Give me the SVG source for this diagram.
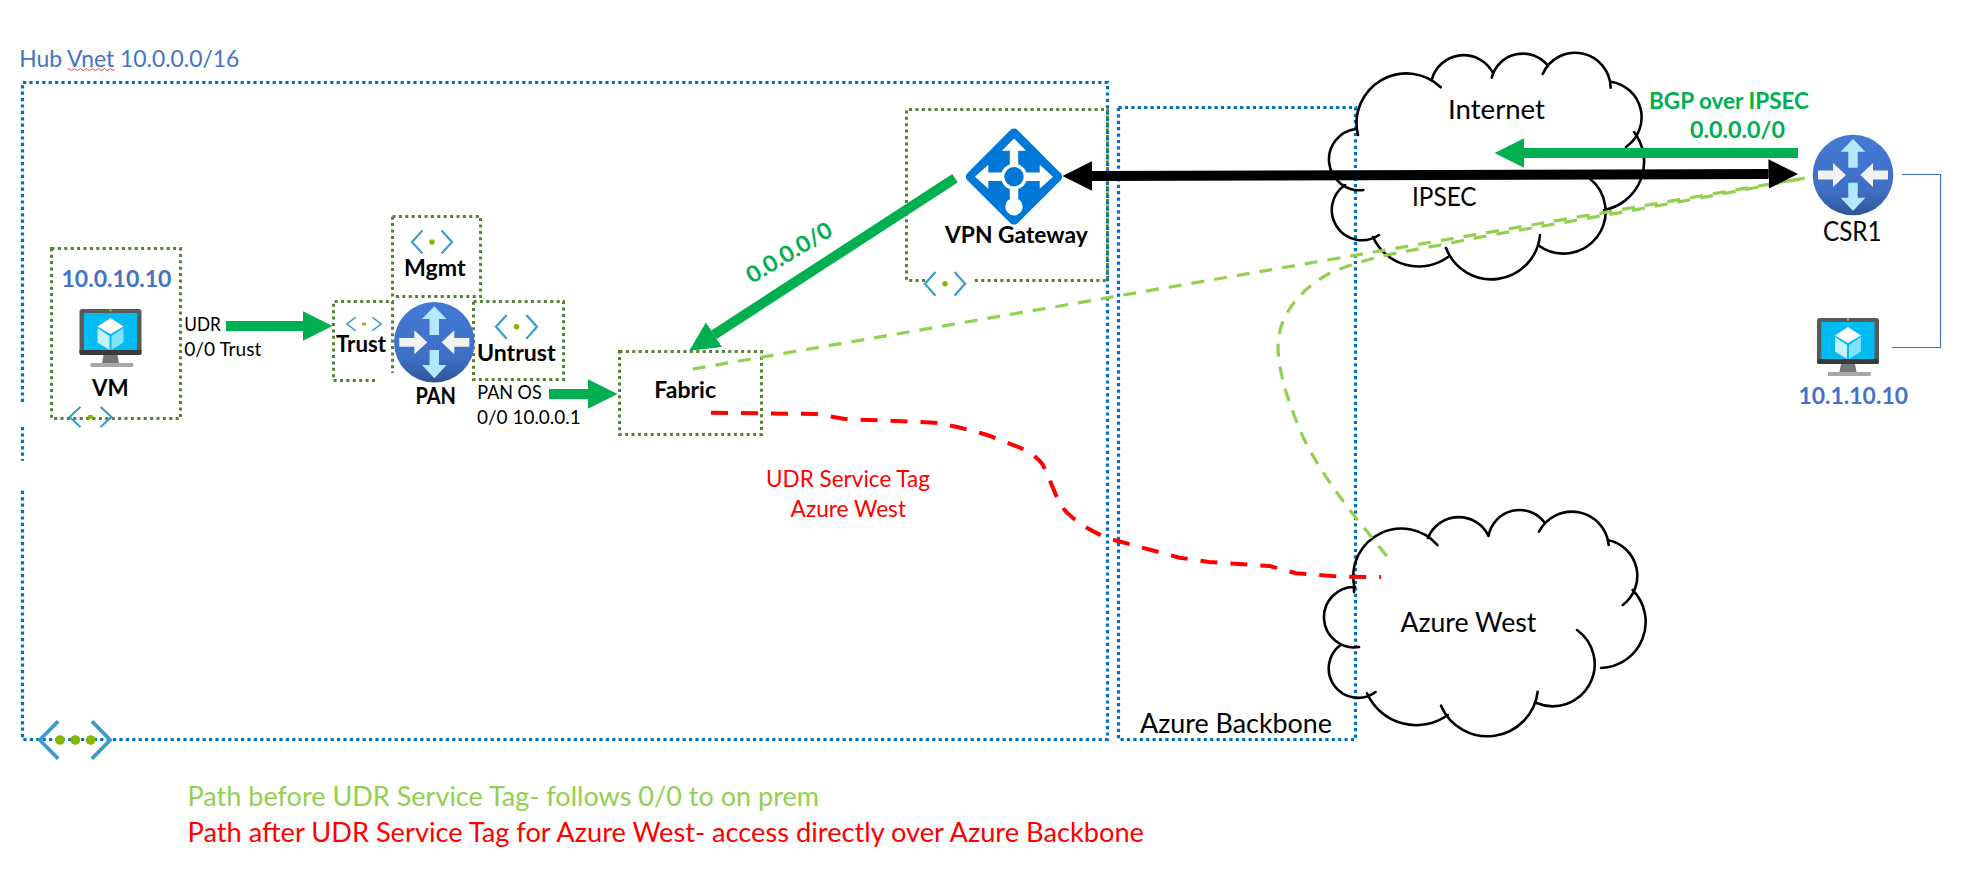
<svg xmlns="http://www.w3.org/2000/svg" width="1972" height="879" viewBox="0 0 1972 879">
<style>
text{font-family:Lato,"Liberation Sans",sans-serif;fill:#000}
.b{font-weight:700}
.blue{fill:#4472C4}
.grn{fill:#00B050}
.red{fill:#FF0000}
.lg{fill:#92D050}
.zone{fill:none;stroke:#0070C0;stroke-width:3.2;stroke-dasharray:3.2 3.2}
.sub{fill:none;stroke:#548235;stroke-width:3;stroke-dasharray:3 3.4}
.cloud{fill:none;stroke:#000;stroke-width:2.6;stroke-linecap:round}
.thick{fill:none;stroke:#00B050;stroke-width:10;marker-end:url(#hg)}
.path1{fill:none;stroke:#92D050;stroke-width:3.2;stroke-dasharray:13 10}
.path2{fill:none;stroke:#FF0000;stroke-width:4;stroke-dasharray:17 13}
</style>
<defs>
<marker id="hg" markerUnits="userSpaceOnUse" markerWidth="30" markerHeight="30" refX="0" refY="15" orient="auto"><path d="M0,0.3 L29.5,15 L0,29.7Z" fill="#00B050"/></marker>
<marker id="hk" markerUnits="userSpaceOnUse" markerWidth="30" markerHeight="30" refX="0" refY="15" orient="auto-start-reverse"><path d="M0,0.3 L29.5,15 L0,29.7Z" fill="#000"/></marker>
<linearGradient id="rg" x1="0" y1="0" x2="0" y2="1"><stop offset="0" stop-color="#4479D6"/><stop offset="0.7" stop-color="#3F6FC4"/><stop offset="1" stop-color="#2F5596"/></linearGradient>
<symbol id="subnet" viewBox="-22 -13 44 26" preserveAspectRatio="none" overflow="visible">
<path d="M-10,-12 L-21,0 L-10,12 M10,-12 L21,0 L10,12" fill="none" stroke="#3A9BCB" stroke-width="2.2"/>
<ellipse rx="2.8" ry="2.8" fill="#86B700"/>
</symbol>
<g id="vm">
<rect x="0" y="0" width="62" height="46" rx="2.5" fill="#5A5A5A"/>
<path d="M0,41 H62 V44 a2,2 0 0 1 -2,2 H2 a2,2 0 0 1 -2,-2Z" fill="#3A3A3A"/>
<rect x="4.3" y="4" width="53.3" height="37" fill="#00BCF2"/>
<path d="M24,46 H38 L39.5,54 H22.5Z" fill="#767676"/>
<rect x="11" y="54" width="42.7" height="4" fill="#A8A8A8"/>
<path d="M31,9 L44,17.5 L31,25 L18,17.5Z" fill="#FFF"/>
<path d="M18,19 L30,27 L30,41 L18,33.5Z" fill="#C6F2FF"/>
<path d="M32,27 L44,19 L44,33.5 L32,41Z" fill="#83E0FB"/>
<rect x="30" y="0.5" width="2" height="2" fill="#B8C400"/>
</g>
<g id="router">
<circle r="40.3" fill="url(#rg)"/>
<path d="M0,-36 L12.3,-23.3 H4.7 V-7.3 H-4.7 V-23.3 H-12.3Z" fill="#B3E8FF"/>
<path d="M0,36 L12.3,22.7 H4.7 V7.7 H-4.7 V22.7 H-12.3Z" fill="#B3E8FF"/>
<path d="M-7,0 L-20,-12 V-4.4 H-35 V4.4 H-20 V12Z" fill="#F2F2F2"/>
<path d="M7.3,0 L20,-12 V-4.4 H35 V4.4 H20 V12Z" fill="#F2F2F2"/>
</g>
</defs>
<rect width="1972" height="879" fill="#FFF"/>

<g id="hub-vnet">
<path class="zone" d="M22.5,402 V82.5 H1107.5 V739.5 H22.5 V490 M22.5,427 V460.7"/>
<text x="19.3" y="66.7" font-size="24" class="blue" textLength="220" lengthAdjust="spacingAndGlyphs">Hub Vnet 10.0.0.0/16</text>
<path d="M67,69.6 q1.5,-2 3,0 t3,0 t3,0 t3,0 t3,0 t3,0 t3,0 t3,0 t3,0 t3,0 t3,0 t3,0 t3,0 t3,0 t3,0 t3,0" fill="none" stroke="#E04B4B" stroke-width="1"/>
<use href="#subnet" x="38" y="719.7" width="74" height="40.6"/>
<circle cx="60" cy="740" r="4.8" fill="#86B700"/><circle cx="75.4" cy="740" r="4.8" fill="#86B700"/><circle cx="90.7" cy="740" r="4.8" fill="#86B700"/>
</g>

<g id="azure-backbone">
<rect class="zone" x="1118.5" y="107.5" width="237" height="632"/>
<text x="1140" y="733" font-size="26" textLength="192" lengthAdjust="spacingAndGlyphs">Azure Backbone</text>
</g>

<g id="internet-cloud">
<path class="cloud" d="M1379,235 A30,30 0 0 1 1345,185 M1363.4,190 A30.7,30.7 0 1 1 1356,129 M1358,135 A49.7,49.7 0 0 1 1440.7,87.3 M1431.7,80 A33,33 0 0 1 1493,73 M1491.7,77.7 A32,32 0 0 1 1548,66 M1542.7,74 A35.5,35.5 0 0 1 1610.7,87.7 M1610.7,81.7 A36,36 0 0 1 1626,147 M1634,132 A49,49 0 0 1 1604,210 M1589,178 A42,42 0 0 1 1538,245 M1540,235 A48.7,48.7 0 0 1 1446,248 M1448,257 A50,50 0 0 1 1373,237"/>
<text x="1448" y="119" font-size="26.5" textLength="97" lengthAdjust="spacingAndGlyphs">Internet</text>
<text x="1412" y="206" font-size="26.5" textLength="64.6" lengthAdjust="spacingAndGlyphs">IPSEC</text>
</g>

<g id="azure-west-cloud">
<path class="cloud" d="M1375.6,692 A29,29 0 1 1 1340.5,645 M1359,647 A30.2,30.2 0 1 1 1355,587 M1354,585 V592 M1354,585 A48,48 0 0 1 1437.4,545 M1428,538 A33,33 0 0 1 1488.5,536 M1488.5,536 A31.5,31.5 0 0 1 1545,523 M1539,531.7 A37,37 0 0 1 1608.7,545 M1607.6,540 A36.5,36.5 0 0 1 1622.8,605 M1632.7,590 A46,46 0 0 1 1601,668 M1577,630 A42,42 0 0 1 1536.5,703 M1537.7,691.7 A50.6,50.6 0 0 1 1441,705.7 M1447.8,715 A54,54 0 0 1 1367,693.3"/>
<text x="1400.4" y="632" font-size="26" textLength="136" lengthAdjust="spacingAndGlyphs">Azure West</text>
</g>

<g id="vm1">
<rect class="sub" x="51.5" y="248.5" width="129" height="170"/>
<text x="61.5" y="287" font-size="22.5" class="b blue" textLength="110" lengthAdjust="spacingAndGlyphs">10.0.10.10</text>
<use href="#vm" x="79.5" y="309"/>
<text x="92" y="395.7" font-size="23.5" class="b" textLength="36.6" lengthAdjust="spacingAndGlyphs">VM</text>
<use href="#subnet" x="68.5" y="406" width="44" height="22"/>
</g>
<g id="udr-label">
<text x="184.3" y="330.7" font-size="18.5" textLength="36.6" lengthAdjust="spacingAndGlyphs">UDR</text>
<text x="184.3" y="356" font-size="18.5" textLength="77" lengthAdjust="spacingAndGlyphs">0/0 Trust</text>
</g>

<g id="mgmt">
<rect class="sub" x="392.5" y="216.5" width="88" height="80"/>
<use href="#subnet" x="411" y="229.5" width="42" height="25"/>
<text x="404" y="276" font-size="22.5" class="b" textLength="61.5" lengthAdjust="spacingAndGlyphs">Mgmt</text>
</g>
<g id="trust">
<path class="sub" d="M375,380.5 H333.5 V301.5 H392.5 V373"/>
<use href="#subnet" x="346" y="316.5" width="36" height="15"/>
<text x="336" y="351.7" font-size="22.5" class="b" textLength="50" lengthAdjust="spacingAndGlyphs">Trust</text>
</g>
<g id="untrust">
<rect class="sub" x="473.5" y="301.5" width="90" height="78"/>
<use href="#subnet" x="495" y="314" width="43" height="25.7"/>
<text x="477" y="360.7" font-size="22" class="b" textLength="78.6" lengthAdjust="spacingAndGlyphs">Untrust</text>
<text x="477.3" y="399" font-size="18.5" textLength="64.4" lengthAdjust="spacingAndGlyphs">PAN OS</text>
<text x="477" y="424" font-size="18.5" textLength="103.8" lengthAdjust="spacingAndGlyphs">0/0 10.0.0.1</text>
</g>
<g id="pan">
<use href="#router" x="434.3" y="342.3"/>
<text x="415.4" y="404" font-size="22" class="b" textLength="40.6" lengthAdjust="spacingAndGlyphs">PAN</text>
</g>
<g id="fabric">
<rect class="sub" x="619.5" y="351.5" width="142" height="83"/>
<text x="654.3" y="398.3" font-size="22.5" class="b" textLength="61.7" lengthAdjust="spacingAndGlyphs">Fabric</text>
</g>
<g id="vpn-gateway">
<path class="sub" d="M925,280.5 H906.5 V109.5 H1107.5 V280.5 H972"/>
<use href="#subnet" x="924" y="271" width="42" height="25.7"/>
<g transform="translate(1014,176.7)">
<rect x="-35.5" y="-35.5" width="71" height="71" rx="5" transform="rotate(45)" fill="#0078D7"/>
<path d="M0,-38.3 L12,-26 H4.2 V-9 H-4.2 V-26 H-12Z M-39,0 L-25.7,-12 V-4.2 H-9 V4.2 H-25.7 V12Z M39,0 L25.7,-12 V-4.2 H9 V4.2 H25.7 V12Z M-4.2,9 H4.2 V24 H-4.2Z" fill="#FFF"/>
<circle r="13" fill="#FFF"/><circle r="9.7" fill="#0078D7"/>
<circle cy="30" r="8.7" fill="#FFF"/>
</g>
<text x="945" y="243.3" font-size="22.5" class="b" textLength="142.7" lengthAdjust="spacingAndGlyphs">VPN Gateway</text>
</g>
<g id="csr1">
<use href="#router" x="1853" y="175"/>
<text x="1823" y="241" font-size="26" textLength="58.6" lengthAdjust="spacingAndGlyphs">CSR1</text>
</g>
<g id="vm2">
<use href="#vm" x="1817" y="318"/>
<text x="1798.5" y="404" font-size="22.5" class="b blue" textLength="109.5" lengthAdjust="spacingAndGlyphs">10.1.10.10</text>
</g>

<g id="connectors">
<path d="M1902,174.5 H1940.5 V347.5 H1892" fill="none" stroke="#4472C4" stroke-width="1.2"/>
<path class="path1" d="M692.7,369 L1805,178"/>
<path class="path1" d="M1386.7,556 L1352,513 C1330,484 1308,453 1296,420 C1284,390 1278,365 1278,346 C1278,320 1295,292 1330,273 C1365,258 1400,252 1441,245 C1500,232 1600,218 1805,178"/>
<path class="path2" d="M711,412.7 L816,414 L845,419 L935,422.7 Q961,427 990,436 L1020,447.7 Q1036,455 1043,465 Q1049,478 1055,492.7 Q1062,510 1071.5,516.7 Q1084,528 1108,538.3 L1151,550 L1179.5,557.7 L1209,562 L1269.4,566 L1296,573.3 L1340.5,576.7 L1381,577"/>
<path class="thick" d="M226,326 H303"/>
<path class="thick" d="M549,394 H588"/>
<path class="thick" d="M955,178.3 L714,334.7"/>
<path class="thick" d="M1798,153 H1524"/>
<path d="M1768.5,174 L1092,176" fill="none" stroke="#000" stroke-width="10" marker-start="url(#hk)" marker-end="url(#hk)"/>
<text transform="translate(752,284) rotate(-31)" font-size="22.5" class="b grn" textLength="96" lengthAdjust="spacingAndGlyphs">0.0.0.0/0</text>
<text x="1649" y="108.7" font-size="23" class="b grn" textLength="160" lengthAdjust="spacingAndGlyphs">BGP over IPSEC</text>
<text x="1690" y="138" font-size="22.5" class="b grn" textLength="95" lengthAdjust="spacingAndGlyphs">0.0.0.0/0</text>
<text x="766" y="487" font-size="23" class="red" textLength="164" lengthAdjust="spacingAndGlyphs">UDR Service Tag</text>
<text x="790.6" y="517" font-size="23" class="red" textLength="115.4" lengthAdjust="spacingAndGlyphs">Azure West</text>
</g>

<g id="legend">
<text x="187.5" y="805.7" font-size="26" class="lg" textLength="631.5" lengthAdjust="spacingAndGlyphs">Path before UDR Service Tag- follows 0/0 to on prem</text>
<text x="187.5" y="841.7" font-size="26" class="red" textLength="956.5" lengthAdjust="spacingAndGlyphs">Path after UDR Service Tag for Azure West- access directly over Azure Backbone</text>
</g>
</svg>
